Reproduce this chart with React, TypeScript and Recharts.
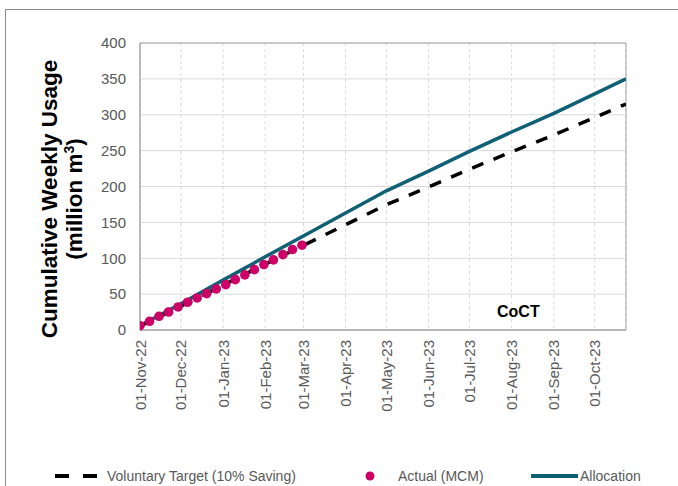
import { CartesianGrid, ComposedChart, Line, ReferenceArea, Scatter, XAxis, YAxis } from "recharts";

// Month grid / tick positions on the date axis
const monthDates = [
  "2022-11-01", "2022-12-01", "2023-01-01", "2023-02-01", "2023-03-01", "2023-04-01",
  "2023-05-01", "2023-06-01", "2023-07-01", "2023-08-01", "2023-09-01", "2023-10-01",
];
const monthLabels = [
  "01-Nov-22", "01-Dec-22", "01-Jan-23", "01-Feb-23", "01-Mar-23", "01-Apr-23",
  "01-May-23", "01-Jun-23", "01-Jul-23", "01-Aug-23", "01-Sep-23", "01-Oct-23",
];
const axisEndDate = "2023-10-24";

// Allocation & voluntary target (cumulative, million m3), read at month starts
const lineDates = [...monthDates, axisEndDate];
const allocation = [6, 36.7, 69.5, 102, 131, 163, 194, 221.5, 249, 276, 302, 329, 350];
const voluntaryTarget = [5.4, 33, 62.5, 91.8, 117.9, 146.7, 174.6, 199.4, 224.1, 248.4, 271.8, 296.1, 315];

// Actual weekly cumulative usage
const actualDates = [
  "2022-11-01", "2022-11-08", "2022-11-15", "2022-11-22", "2022-11-29", "2022-12-06",
  "2022-12-13", "2022-12-20", "2022-12-27", "2023-01-03", "2023-01-10", "2023-01-17",
  "2023-01-24", "2023-01-31", "2023-02-07", "2023-02-14", "2023-02-21", "2023-02-28",
];
const actual = [
  6.0, 12.1, 19.1, 25.1, 32.1, 38.7, 44.7, 50.7, 57.2, 63.2, 70.2, 76.8, 84.2, 91.2, 97.7,
  105.1, 112.1, 118.2,
];

const yTicks = [0, 50, 100, 150, 200, 250, 300, 350, 400];

const TEAL = "#0f6075";
const MAGENTA = "#cc0066";
const GRID = "#d9d9d9";
const AXIS = "#a6a6a6";
const TEXT = "#595959";
const FONT = "'Liberation Sans', Arial, sans-serif";

const ts = (d: string) => Date.parse(d);
const monthTicks = monthDates.map(ts);
const xMin = ts(monthDates[0]);
const xMax = ts(axisEndDate);

const allocationRows = lineDates.map((d, i) => ({ t: ts(d), v: allocation[i] }));
const targetRows = lineDates.map((d, i) => ({ t: ts(d), v: voluntaryTarget[i] }));
const actualRows = actualDates.map((d, i) => ({ t: ts(d), v: actual[i] }));

interface TickProps {
  x?: number;
  y?: number;
  payload?: { value: number };
}

/** Rotated month labels, read top-down like Excel's 270° text */
function DateTick({ x = 0, y = 0, payload }: TickProps) {
  const idx = monthTicks.indexOf(payload?.value ?? -1);
  return (
    <text
      x={x}
      y={y}
      transform={`rotate(-90 ${x} ${y})`}
      textAnchor="end"
      dominantBaseline="central"
      fontSize={15}
      fontFamily={FONT}
      fill={TEXT}
    >
      {idx >= 0 ? monthLabels[idx] : ""}
    </text>
  );
}

function ActualDot(props: { cx?: number; cy?: number }) {
  return <circle cx={props.cx} cy={props.cy} r={4.8} fill={MAGENTA} />;
}

export default function App() {
  return (
    <div
      style={{
        position: "absolute",
        left: 0,
        top: 0,
        width: 678,
        height: 486,
        overflow: "hidden",
        background: "#fff",
        fontFamily: FONT,
      }}
    >
      {/* chart frame, runs off the right and bottom edges */}
      <div
        style={{
          position: "absolute",
          left: 5,
          top: 9,
          width: 720,
          height: 520,
          border: "1px solid #8c8c8c",
        }}
      />

      <ComposedChart
        width={678}
        height={486}
        margin={{ top: 43, right: 52, bottom: 0, left: 0 }}
        style={{ position: "absolute", left: 0, top: 0 }}
      >
        <CartesianGrid vertical={false} stroke={GRID} />
        <CartesianGrid horizontal={false} stroke={GRID} strokeDasharray="3 3" />
        <XAxis
          dataKey="t"
          type="number"
          domain={[xMin, xMax]}
          ticks={monthTicks}
          interval={0}
          allowDataOverflow
          tick={<DateTick />}
          tickLine={false}
          tickSize={0}
          tickMargin={10}
          height={156}
          axisLine={{ stroke: AXIS }}
        />
        <YAxis
          type="number"
          domain={[0, 400]}
          ticks={yTicks}
          width={140}
          tickLine={false}
          tickSize={0}
          tickMargin={14}
          axisLine={{ stroke: AXIS }}
          tick={{ fontSize: 15, fill: TEXT, fontFamily: FONT }}
        />
        <ReferenceArea
          x1={xMin}
          x2={xMax}
          y1={0}
          y2={400}
          fill="none"
          stroke={AXIS}
          strokeOpacity={1}
        />
        <Line
          data={allocationRows}
          dataKey="v"
          type="linear"
          stroke={TEAL}
          strokeWidth={3.5}
          dot={false}
          isAnimationActive={false}
        />
        <Line
          data={targetRows}
          dataKey="v"
          type="linear"
          stroke="#000"
          strokeWidth={3.5}
          strokeDasharray="12 11"
          dot={false}
          isAnimationActive={false}
        />
        <Scatter data={actualRows} dataKey="v" shape={<ActualDot />} isAnimationActive={false} />
      </ComposedChart>

      {/* y-axis title */}
      <div
        style={{
          position: "absolute",
          left: 63 - 170,
          top: 199 - 26,
          width: 340,
          height: 52,
          transform: "rotate(-90deg)",
          textAlign: "center",
          fontWeight: "bold",
          fontSize: 22.5,
          lineHeight: "25px",
          color: "#000",
          whiteSpace: "nowrap",
        }}
      >
        <div>Cumulative Weekly Usage</div>
        <div>
          (million m<span style={{ fontSize: 14, verticalAlign: "super", lineHeight: 0 }}>3</span>)
        </div>
      </div>

      <div
        style={{
          position: "absolute",
          left: 497,
          top: 303,
          fontWeight: "bold",
          fontSize: 16,
          lineHeight: "18px",
          color: "#000",
        }}
      >
        CoCT
      </div>

      {/* legend */}
      <svg width={678} height={30} style={{ position: "absolute", left: 0, top: 461 }}>
        <line x1={55} x2={97} y1={15} y2={15} stroke="#000" strokeWidth={4} strokeDasharray="14 14" />
        <circle cx={370} cy={15} r={4.5} fill={MAGENTA} />
        <line x1={531} x2={578} y1={15} y2={15} stroke={TEAL} strokeWidth={4} />
      </svg>
      {[
        { label: "Voluntary Target (10% Saving)", left: 107 },
        { label: "Actual (MCM)", left: 398 },
        { label: "Allocation", left: 580 },
      ].map((item) => (
        <div
          key={item.label}
          style={{
            position: "absolute",
            left: item.left,
            top: 467,
            fontSize: 14,
            lineHeight: "18px",
            color: TEXT,
            whiteSpace: "nowrap",
          }}
        >
          {item.label}
        </div>
      ))}
    </div>
  );
}
